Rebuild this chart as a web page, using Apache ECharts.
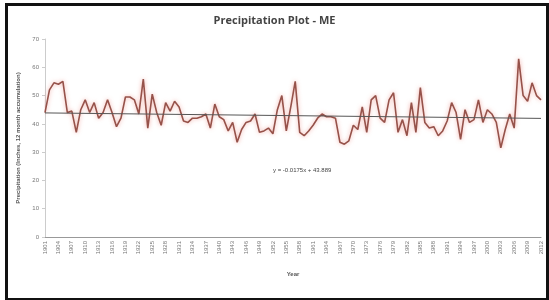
<!DOCTYPE html>
<html><head><meta charset="utf-8">
<script src="https://cdn.jsdelivr.net/npm/echarts@6/dist/echarts.min.js"></script>
<style>html,body{margin:0;padding:0;background:#fff}#c{width:549px;height:300px}</style>
</head><body><div id="c"></div>
<script>
const years = [];
for (let y = 1901; y <= 2012; y++) years.push(String(y));
const precip = [44,52,54.5,54,55,44,44.5,37,45,48.5,44,47.5,42,44,48.5,44,39,42,49.5,49.5,
48.5,43.5,55.8,38.5,50.5,44,39.5,47.5,44.5,48,46,41,40.5,42,42,42.5,43.5,38.5,47,42.5,
41.5,37.5,40.5,33.5,38,40.5,41,43.5,37,37.5,38.5,36.5,45,50,37.5,46,55,37,35.8,37.5,
39.5,42,43.5,42.5,42.5,42,33.5,32.8,34,39.5,38,46,37,48.5,50,42,40.5,48.5,51,37,
41.5,35.8,47.5,37,52.8,40.5,38.5,39,35.8,37.5,41,47.5,44,34.5,45,40.5,41.5,48.5,40.5,45,
43.5,40.5,31.5,38,43.5,38.5,63,50,48,54.5,50,48.5];
const trendEnds = [43.87, 41.93];
const chart = echarts.init(document.getElementById('c'));
chart.setOption({
  animation:false,
  title:{text:'Precipitation Plot - ME',left:'center',top:10,
    textStyle:{fontSize:11,fontWeight:'bold',color:'#444',fontFamily:'Open Sans'}},
  grid:{left:45,right:8,top:39,bottom:63},
  xAxis:{type:'category',data:years,boundaryGap:false,name:'Year',nameLocation:'middle',nameGap:34,
    nameTextStyle:{fontSize:6,fontWeight:'bold',color:'#555'},
    axisLine:{lineStyle:{color:'#999'}},axisTick:{show:false},
    axisLabel:{interval:2,rotate:90,fontSize:6,color:'#777',margin:4}},
  yAxis:{type:'value',min:0,max:70,interval:10,name:'Precipitation (Inches, 12 month accumulation)',
    nameLocation:'middle',nameGap:21,nameTextStyle:{fontSize:6,fontWeight:'bold',color:'#555'},
    axisLine:{show:true,lineStyle:{color:'#ccc'}},axisTick:{show:true,length:3,lineStyle:{color:'#ccc'}},
    splitLine:{show:false},axisLabel:{fontSize:6,color:'#777',margin:6}},
  series:[{type:'line',data:precip,showSymbol:false,
    lineStyle:{color:'#96524a',width:1.6,shadowColor:'rgba(235,130,120,0.7)',shadowBlur:4},
    markLine:{silent:true,symbol:'none',label:{show:false},
      lineStyle:{color:'#555',width:1,type:'solid'},
      data:[[{coord:[years[0],trendEnds[0]]},{coord:[years[years.length-1],trendEnds[1]]}]]}}],
  graphic:[
    {type:'rect',left:4,top:2,shape:{width:541,height:295},style:{fill:'none',stroke:'#111',lineWidth:3}},
    {type:'text',left:273,top:167,style:{text:'y = -0.0175x + 43.889',fontSize:6,fill:'#444'}}
  ]
});
</script></body></html>
